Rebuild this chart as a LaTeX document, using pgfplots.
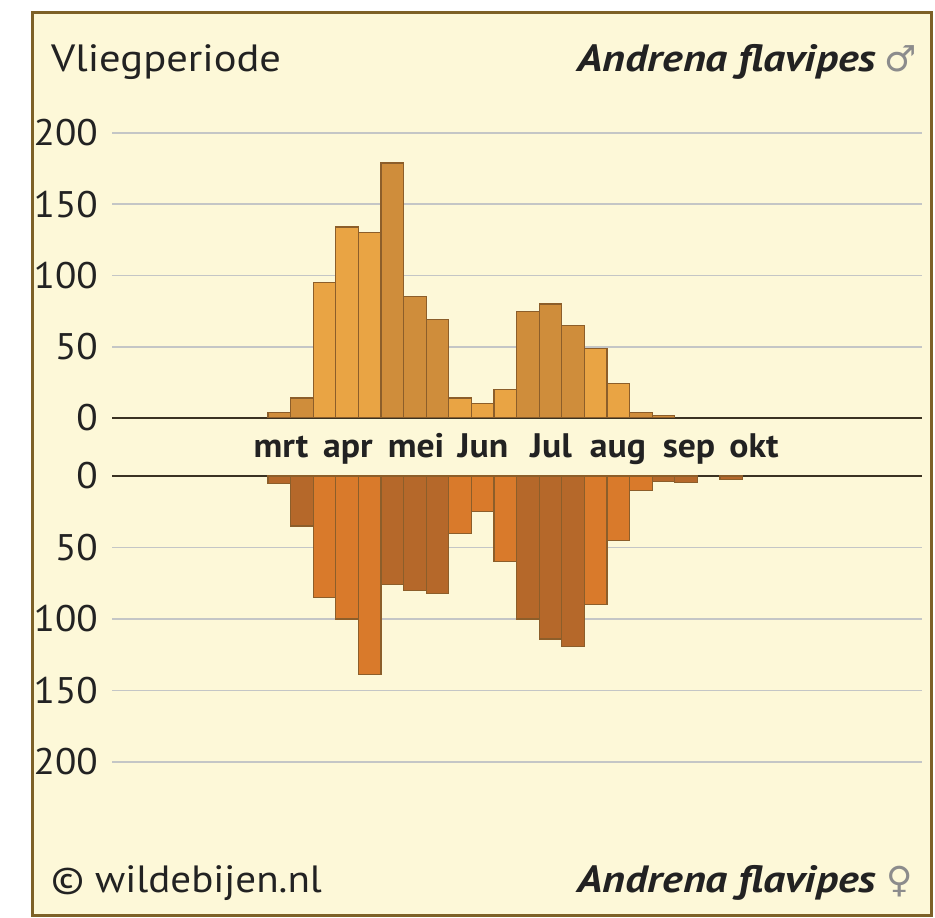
\documentclass[border=0pt]{standalone}
\usepackage{fontspec}
\setmainfont{PT Sans}
\newfontfamily\symfont{DejaVu Sans}
\usepackage{pgfplots}
\pgfplotsset{compat=1.18}
\definecolor{bg}{HTML}{FDF8D8}
\definecolor{framec}{HTML}{7D6127}
\definecolor{tl}{HTML}{E9A444}
\definecolor{td}{HTML}{CF8D3B}
\definecolor{bl}{HTML}{D97A2B}
\definecolor{bd}{HTML}{B5682A}
\definecolor{edge}{HTML}{8C5E2A}
\definecolor{gridc}{HTML}{C4C6C6}
\definecolor{txt}{HTML}{222222}
\definecolor{zeroc}{HTML}{3A3222}

\pgfplotsset{
 common/.style={
  scale only axis, width=810pt,
  xmin=-7.4, xmax=28.44,
  ymin=0, ymax=200,
  axis line style={draw=none},
  xtick=\empty,
  ytick={50,100,150,200},
  extra y ticks={0},
  extra y tick style={grid style={draw=zeroc, line width=2pt}},
  ymajorgrids,
  grid style={draw=gridc, line width=1.8pt},
  major tick length=0pt,
  yticklabel style={anchor=east, inner sep=0pt, xshift=-14pt, font=\fontsize{37}{37}\selectfont, text=txt},
  yticklabel={\scalebox{1.06}[1]{\pgfmathprintnumber{\tick}}},
  /pgf/number format/assume math mode=true,
  ybar, bar width=22.6pt, bar shift=0pt,
  every axis plot/.append style={draw=edge, line width=1.2pt},
 }
}

\begin{document}
\begin{tikzpicture}[x=1pt,y=1pt]
\path[use as bounding box] (0,0) rectangle (935,918);
\fill[white] (0,0) rectangle (935,918);
\filldraw[fill=bg, draw=framec, line width=3pt] (32,2) rectangle (931,905);

% males (top)
\begin{axis}[common, at={(112pt,500pt)}, anchor=south west, height=285pt]
\addplot[fill=td] coordinates {(0,4) (1,14) (5,179) (6,85) (7,69) (11,75) (12,80) (13,65) (16,4) (17,1.5)};
\addplot[fill=tl] coordinates {(2,95) (3,134) (4,130) (8,14) (9,10) (10,20) (14,49) (15,24)};
\end{axis}

% females (bottom)
\begin{axis}[common, y dir=reverse, at={(112pt,442pt)}, anchor=north west, height=286pt]
\addplot[fill=bd] coordinates {(0,5) (1,35) (5,76) (6,80) (7,82) (11,100) (12,114) (13,119) (17,4) (18,4.5) (20,2.5)};
\addplot[fill=bl] coordinates {(2,85) (3,100) (4,139) (8,40) (9,25) (10,60) (14,90) (15,45) (16,10)};
\end{axis}

% month labels
\begin{scope}[every node/.style={anchor=base, font=\bfseries\fontsize{34}{34}\selectfont, text=txt, inner sep=0pt}]
\node at (281,460) {\scalebox{1.05}[1]{mrt}};
\node at (348,460) {\scalebox{1.05}[1]{apr}};
\node at (416,460) {\scalebox{1.05}[1]{mei}};
\node at (483,460) {\scalebox{1.05}[1]{Jun}};
\node at (551,460) {\scalebox{1.05}[1]{Jul}};
\node at (618,460) {\scalebox{1.05}[1]{aug}};
\node at (689,460) {\scalebox{1.05}[1]{sep}};
\node at (754,460) {\scalebox{1.05}[1]{okt}};
\end{scope}

% titles
\node[anchor=base west, inner sep=0pt, font=\fontsize{38}{38}\selectfont, text=txt] at (51,846) {\scalebox{1.12}[1]{Vliegperiode}};
\node[anchor=base east, inner sep=0pt, font=\bfseries\itshape\fontsize{38}{38}\selectfont, text=txt] at (876,846) {\scalebox{1.15}[1]{Andrena flavipes}};
\node[anchor=base west, inner sep=0pt, font=\symfont\fontsize{36}{36}\selectfont, text=black!45] at (884,846) {♂};
\node[anchor=base west, inner sep=0pt, font=\fontsize{38}{38}\selectfont, text=txt] at (51,25) {\scalebox{1.08}[1]{© wildebijen.nl}};
\node[anchor=base east, inner sep=0pt, font=\bfseries\itshape\fontsize{38}{38}\selectfont, text=txt] at (876,25) {\scalebox{1.15}[1]{Andrena flavipes}};
\node[anchor=base west, inner sep=0pt, font=\symfont\fontsize{36}{36}\selectfont, text=black!45] at (886,25) {♀};
\end{tikzpicture}
\end{document}
